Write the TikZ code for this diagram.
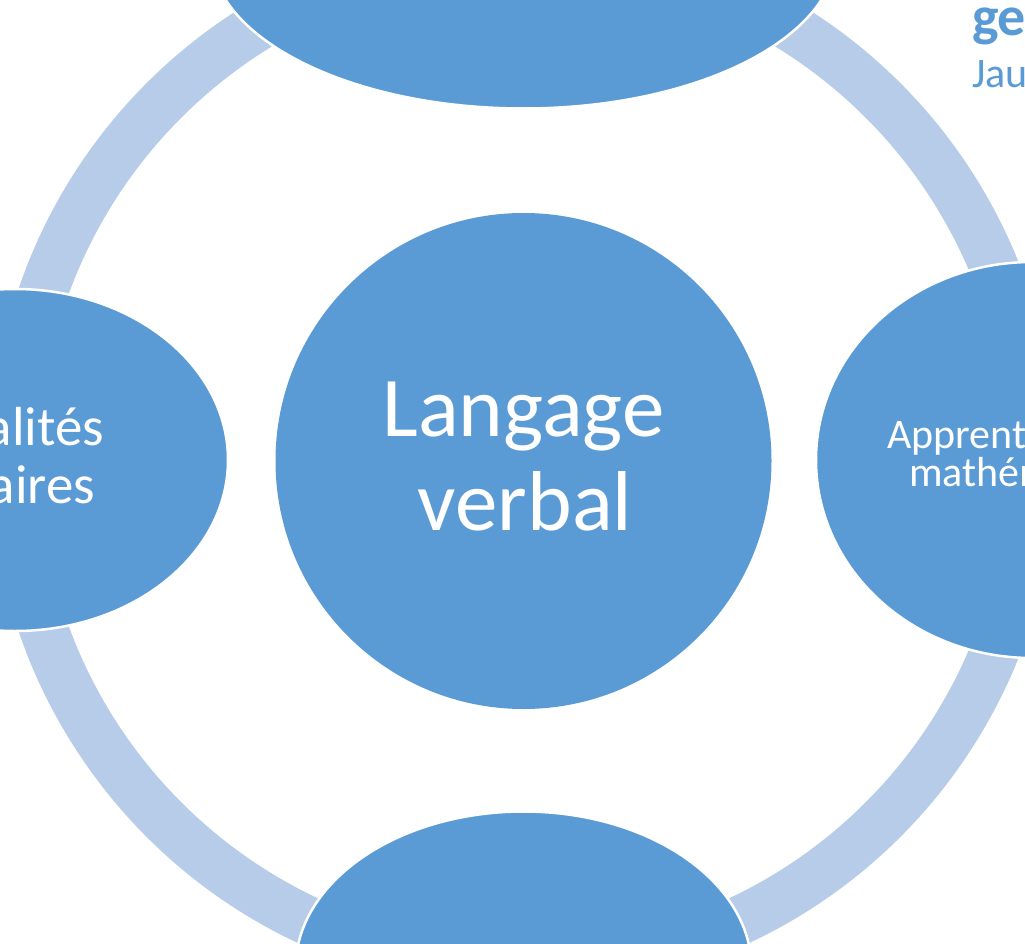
\documentclass[tikz,border=0pt]{standalone}
\usepackage{fontspec}
\setmainfont{Carlito}
\usetikzlibrary{shapes.geometric}
\definecolor{accent}{HTML}{5B9BD5}
\definecolor{ringblue}{HTML}{B7CCE8}
\begin{document}
\begin{tikzpicture}[x=1pt,y=-1pt,
  bubble/.style={ellipse, fill=accent, draw=white, line width=2.5pt, inner sep=0pt, outer sep=0pt},
  hub/.style={circle, fill=accent, inner sep=0pt, outer sep=0pt},
  lbl/.style={text=white, inner sep=0pt, outer sep=0pt},
  title/.style={text=accent, inner sep=0pt, outer sep=0pt, anchor=base west}]
\useasboundingbox (0,0) rectangle (1025,944);
\fill[white] (0,0) rectangle (1025,944);

% cycle ring behind the bubbles
\draw[ringblue, line width=49pt] (523.5,460) circle[radius=508.5pt];

% satellite bubbles
\node[bubble, minimum width=626pt, minimum height=314pt] (north) at (523.5,-48.5) {};
\node[bubble, minimum width=426pt, minimum height=342pt] (west) at (15,460) {};
\node[bubble, minimum width=432pt, minimum height=396pt] (east) at (1032,460) {};
\node[bubble, minimum width=456pt, minimum height=314pt] (south) at (523.5,968.5) {};

% central circle
\node[hub, minimum size=496pt] (hubc) at (523.5,461) {};
\node[lbl, font=\fontsize{85}{94}\selectfont, anchor=base] (hubA) at (523.5,436) {Langage};
\node[lbl, font=\fontsize{85}{94}\selectfont, anchor=base] (hubB) at (525,530) {verbal};

% texts of the side bubbles
\node[lbl, font=\fontsize{55}{58}\selectfont, anchor=base east] (westA) at (104,445) {alités};
\node[lbl, font=\fontsize{55}{58}\selectfont, anchor=base east] (westB) at (95,503) {aires};
\node[lbl, font=\fontsize{42}{44}\selectfont, anchor=base west] (eastA) at (887,448) {Apprent};
\node[lbl, font=\fontsize{42}{44}\selectfont, anchor=base west] (eastB) at (909,486.5) {mathém};

% heading in the corner
\node[title, font=\fontsize{56}{60}\selectfont\bfseries] (headA) at (972,36) {ge};
\node[title, font=\fontsize{42}{44}\selectfont] (headB) at (972,88) {Jau};
\end{tikzpicture}
\end{document}
